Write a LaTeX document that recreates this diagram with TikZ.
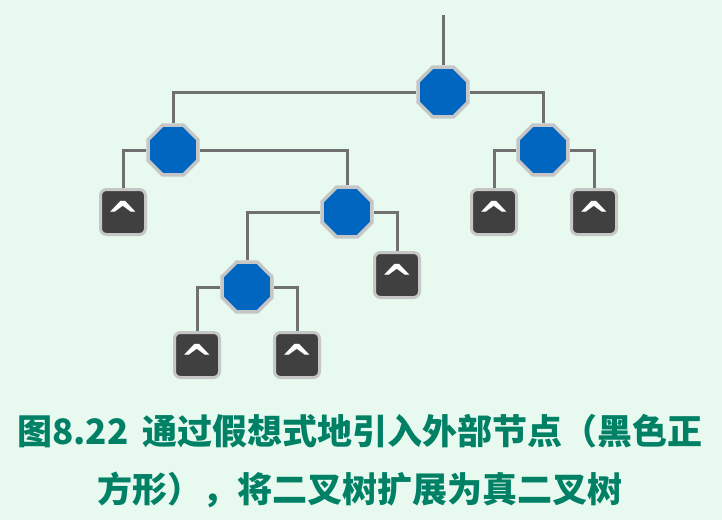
\documentclass[tikz,border=0pt]{standalone}
\usepackage{fontspec}
\newfontfamily\cjk{Noto Sans CJK SC}
\newfontfamily\capfont{DejaVu Sans}
\usepackage{tikz}
\usetikzlibrary{positioning,shapes.geometric,backgrounds}
\definecolor{treebg}{RGB}{232,250,240}
\definecolor{treeblue}{RGB}{0,102,192}
\definecolor{treeline}{RGB}{112,112,112}
\definecolor{treeext}{RGB}{64,64,64}
\definecolor{treegreen}{RGB}{0,128,100}

\begin{document}
\begin{tikzpicture}[x=1pt,y=-1pt,
    inner/.style={regular polygon,regular polygon sides=8,minimum size=54pt,
                  inner sep=0pt,fill=treeblue,draw=gray!45,line width=3.5pt},
    ext/.style={rectangle,rounded corners=6pt,minimum size=45pt,inner sep=0pt,
                text height=37pt,text depth=0pt,
                fill=treeext,draw=gray!45,line width=3pt,text=white,
                font=\capfont\bfseries\fontsize{40}{40}\selectfont},
    ln/.style={treeline,line width=3pt},
    caption/.style={align=center,text=treegreen,
                    font=\cjk\bfseries\fontsize{35}{58}\selectfont}]
    \node[inner] (r)  at (443,92)  {};
    \node[inner] (a)  at (173,150) {};
    \node[inner] (b)  at (543,150) {};
    \node[inner] (c)  at (347,212) {};
    \node[inner] (d)  at (247,287) {};
    \node[ext]   (x1) at (123,212) {\^{}};
    \node[ext]   (x2) at (494,212) {\^{}};
    \node[ext]   (x3) at (594,212) {\^{}};
    \node[ext]   (x4) at (397,275) {\^{}};
    \node[ext]   (x5) at (197,355) {\^{}};
    \node[ext]   (x6) at (297,355) {\^{}};
    \coordinate (top) at (443,15);
    \node[caption] (cap) at (360,461)
        {图8.22\hspace{0.4em}通过假想式地引入外部节点（黑色正\\方形），将二叉树扩展为真二叉树};
    \begin{scope}[on background layer]
        \fill[treebg] (0,0) rectangle (722,520);
        \draw[ln] (top)--(r);
        \draw[ln] (r)-|(a); \draw[ln] (r)-|(b);
        \draw[ln] (a)-|(x1); \draw[ln] (a)-|(c);
        \draw[ln] (b)-|(x2); \draw[ln] (b)-|(x3);
        \draw[ln] (c)-|(d); \draw[ln] (c)-|(x4);
        \draw[ln] (d)-|(x5); \draw[ln] (d)-|(x6);
    \end{scope}
\end{tikzpicture}
\end{document}
